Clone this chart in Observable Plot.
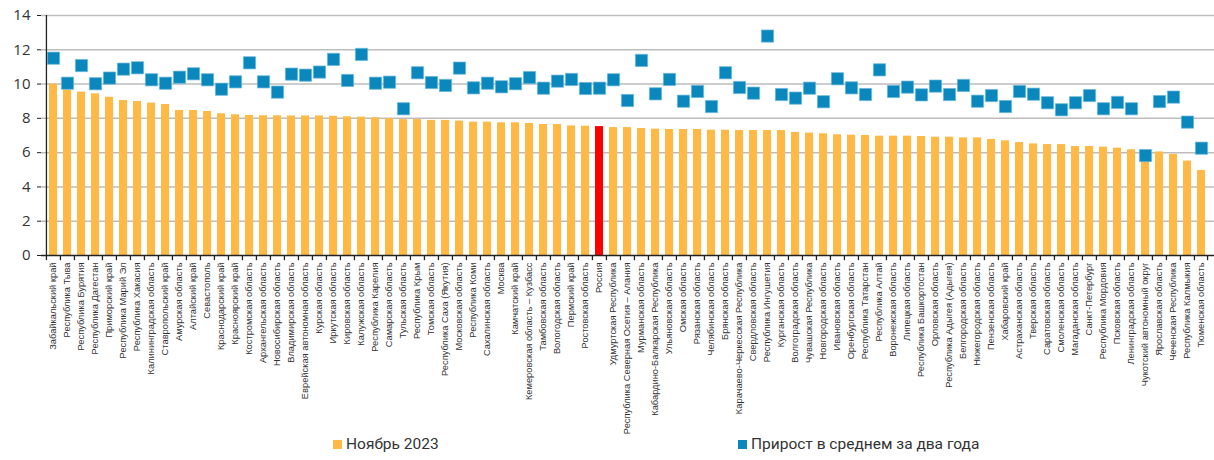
<!DOCTYPE html>
<html>
<head>
<meta charset="utf-8">
<script src="https://cdn.jsdelivr.net/npm/d3@7"></script>
<script src="https://cdn.jsdelivr.net/npm/@observablehq/plot@0.6"></script>
<style>
  html, body { margin: 0; padding: 0; background: #fff; }
  #chart { width: 1214px; }
  .legend { position: relative; width: 1214px; height: 25px; font-family: Roboto, "Open Sans", sans-serif; font-size: 15.5px; color: #333; }
  .legend .item { position: absolute; top: 0; display: flex; align-items: center; white-space: nowrap; }
  .legend .sw { width: 9px; height: 9px; margin-right: 4px; }
</style>
</head>
<body>
<div id="chart"></div>
<div class="legend">
  <div class="item" style="left:333px"><span class="sw" style="background:#ffb944"></span><span id="l1"></span></div>
  <div class="item" style="left:738px"><span class="sw" style="background:#0a87bd"></span><span id="l2"></span></div>
</div>
<script>
const seriesNames = ["Ноябрь 2023", "Прирост в среднем за два года"];

const regions = [
  "Забайкальский край","Республика Тыва","Республика Бурятия","Республика Дагестан","Приморский край",
  "Республика Марий Эл","Республика Хакасия","Калининградская область","Ставропольский край","Амурская область",
  "Алтайский край","Севастополь","Краснодарский край","Красноярский край","Костромская область",
  "Архангельская область","Новосибирская область","Владимирская область","Еврейская автономная область","Курская область",
  "Иркутская область","Кировская область","Калужская область","Республика Карелия","Самарская область",
  "Тульская область","Республика Крым","Томская область","Республика Саха (Якутия)","Московская область",
  "Республика Коми","Сахалинская область","Москва","Камчатский край","Кемеровская область – Кузбасс",
  "Тамбовская область","Вологодская область","Пермский край","Ростовская область","Россия",
  "Удмуртская Республика","Республика Северная Осетия – Алания","Мурманская область","Кабардино-Балкарская Республика","Ульяновская область",
  "Омская область","Рязанская область","Челябинская область","Брянская область","Карачаево-Черкесская Республика",
  "Свердловская область","Республика Ингушетия","Курганская область","Волгоградская область","Чувашская Республика",
  "Новгородская область","Ивановская область","Оренбургская область","Республика Татарстан","Республика Алтай",
  "Воронежская область","Липецкая область","Республика Башкортостан","Орловская область","Республика Адыгея (Адыгея)",
  "Белгородская область","Нижегородская область","Пензенская область","Хабаровский край","Астраханская область",
  "Тверская область","Саратовская область","Смоленская область","Магаданская область","Санкт-Петербург",
  "Республика Мордовия","Псковская область","Ленинградская область","Чукотский автономный округ","Ярославская область",
  "Чеченская Республика","Республика Калмыкия","Тюменская область"
];

const nov2023 = [
  10.0, 9.65, 9.53, 9.43, 9.23,
  9.04, 8.98, 8.89, 8.81, 8.46,
  8.46, 8.40, 8.27, 8.21, 8.17,
  8.15, 8.15, 8.14, 8.14, 8.14,
  8.12, 8.09, 8.07, 8.03, 7.99,
  7.93, 7.93, 7.88, 7.88, 7.84,
  7.78, 7.78, 7.74, 7.74, 7.70,
  7.64, 7.64, 7.56, 7.54, 7.52,
  7.46, 7.46, 7.41, 7.37, 7.35,
  7.35, 7.35, 7.31, 7.31, 7.29,
  7.29, 7.29, 7.29, 7.18, 7.14,
  7.10, 7.04, 7.02, 7.00, 6.96,
  6.96, 6.96, 6.94, 6.90, 6.90,
  6.86, 6.86, 6.77, 6.69, 6.59,
  6.51, 6.47, 6.47, 6.36, 6.36,
  6.32, 6.26, 6.17, 6.10, 6.04,
  5.90, 5.51, 4.96
];

const growth2y = [
  11.51, 10.05, 11.08, 10.02, 10.35,
  10.87, 10.95, 10.25, 10.05, 10.40,
  10.60, 10.25, 9.70, 10.13, 11.24,
  10.13, 9.53, 10.58, 10.52, 10.70,
  11.44, 10.21, 11.73, 10.05, 10.11,
  8.56, 10.66, 10.09, 9.92, 10.93,
  9.78, 10.05, 9.84, 10.02, 10.38,
  9.76, 10.17, 10.27, 9.74, 9.76,
  10.25, 9.04, 11.38, 9.43, 10.27,
  9.00, 9.57, 8.69, 10.66, 9.80,
  9.47, 12.80, 9.39, 9.18, 9.76,
  8.97, 10.31, 9.78, 9.39, 10.83,
  9.57, 9.82, 9.37, 9.88, 9.39,
  9.92, 9.00, 9.33, 8.69, 9.57,
  9.41, 8.91, 8.50, 8.91, 9.33,
  8.56, 8.93, 8.56, 5.83, 8.98,
  9.24, 7.78, 6.26
];

const yTicks = [0, 2, 4, 6, 8, 10, 12, 14];
const highlight = "Россия";

const data = regions.map((r, i) => ({region: r, rate: nov2023[i], growth: growth2y[i]}));

const W = 1214, H = 435, mL = 41, mR = 0, mT = 15, mB = 180;
const step = (W - mL - mR) / regions.length;

const chart = Plot.plot({
  width: W, height: H,
  marginLeft: mL, marginRight: mR, marginTop: mT, marginBottom: mB,
  style: {fontFamily: "'Liberation Sans', Arial, sans-serif", background: "#fff", overflow: "visible"},
  x: {domain: regions, paddingInner: 0.42, paddingOuter: 0.21, label: null, axis: null},
  y: {domain: [0, 14], label: null, axis: null},
  marks: [
    Plot.gridY(yTicks.filter(d => d > 0), {stroke: "#bdbdbd", strokeOpacity: 1, strokeWidth: 1.5}),
    Plot.barY(data.filter(d => d.region !== highlight), {x: "region", y: "rate", fill: "#ffb944"}),
    Plot.barY(data.filter(d => d.region === highlight), {x: "region", y: "rate", fill: "#ff0000"}),
    Plot.dot(data, {x: "region", y: "growth", symbol: "square", r: 6.9, fill: "#0a87bd", stroke: "#6fb8da", strokeWidth: 0.7}),
    Plot.ruleY([0], {stroke: "#222", strokeWidth: 1.5}),
    Plot.ruleX([regions[0]], {dx: -step / 2, y1: 0, y2: 14, stroke: "#222", strokeWidth: 1.3}),
    Plot.ruleX(regions, {x: d => d, dx: -step / 2, y1: 0, y2: -0.3, stroke: "#222", strokeWidth: 1.3}),
    Plot.ruleX([regions[regions.length - 1]], {dx: step / 2 - 1, y1: 0, y2: -0.3, stroke: "#222", strokeWidth: 1.3}),
    Plot.axisY(yTicks, {anchor: "left", tickSize: 4, tickPadding: 7, fontSize: 15, stroke: "#222", fill: "#333", fontFamily: "'Open Sans', sans-serif"}),
    Plot.axisX({anchor: "bottom", tickSize: 0, tickPadding: 7, tickRotate: -90, fontSize: 9.3, fill: "#333", textAnchor: "end"})
  ]
});
document.getElementById("chart").appendChild(chart);
document.getElementById("l1").textContent = seriesNames[0];
document.getElementById("l2").textContent = seriesNames[1];
</script>
</body>
</html>
